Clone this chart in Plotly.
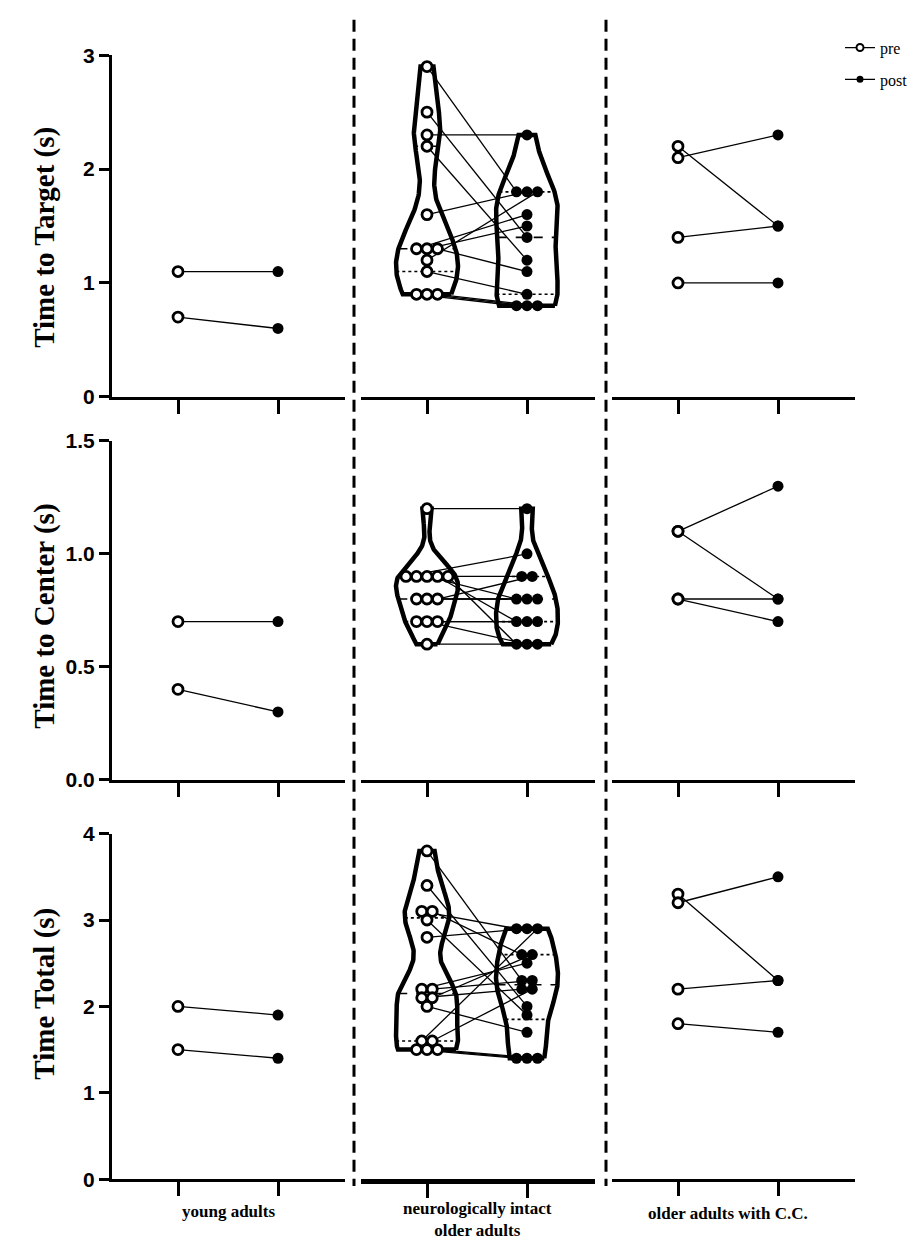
import numpy as np
import plotly.graph_objects as go

# ---------------- data ----------------
groups = ["young adults", "neurologically intact<br>older adults", "older adults with C.C."]
conditions = ["pre", "post"]
measures = ["Time to Target (s)", "Time to Center (s)", "Time Total (s)"]

target_young_pre = [1.1, 0.7]
target_young_post = [1.1, 0.6]
target_intact_pre = [2.9, 2.5, 2.3, 2.2, 1.6, 1.3, 1.3, 1.3, 1.2, 1.1, 0.9, 0.9, 0.9]
target_intact_post = [1.8, 1.4, 2.3, 1.2, 1.8, 1.6, 1.5, 1.1, 1.8, 0.9, 0.8, 0.8, 0.8]
target_cc_pre = [2.2, 2.1, 1.4, 1.0]
target_cc_post = [1.5, 2.3, 1.5, 1.0]

center_young_pre = [0.7, 0.4]
center_young_post = [0.7, 0.3]
center_intact_pre = [1.2, 0.9, 0.9, 0.9, 0.9, 0.9, 0.8, 0.8, 0.8, 0.7, 0.7, 0.7, 0.6]
center_intact_post = [1.2, 1.0, 0.9, 0.8, 0.7, 0.6, 0.8, 0.8, 0.9, 0.7, 0.6, 0.7, 0.6]
center_cc_pre = [1.1, 1.1, 0.8, 0.8]
center_cc_post = [1.3, 0.8, 0.8, 0.7]

total_young_pre = [2.0, 1.5]
total_young_post = [1.9, 1.4]
total_intact_pre = [3.8, 3.4, 3.1, 3.1, 3.0, 2.8, 2.2, 2.2, 2.1, 2.1, 2.0, 1.6, 1.6, 1.5, 1.5, 1.5]
total_intact_post = [2.3, 2.0, 2.9, 2.6, 1.9, 2.9, 2.5, 2.3, 2.2, 2.6, 1.7, 2.9, 2.2, 1.4, 1.4, 1.4]
total_cc_pre = [3.3, 3.2, 2.2, 1.8]
total_cc_post = [2.3, 3.5, 2.3, 1.7]

target_ticks = [0, 1, 2, 3]
target_ticklabels = ["0", "1", "2", "3"]
center_ticks = [0, 0.5, 1.0, 1.5]
center_ticklabels = ["0.0", "0.5", "1.0", "1.5"]
total_ticks = [0, 1, 2, 3, 4]
total_ticklabels = ["0", "1", "2", "3", "4"]

panels = [
    [(target_young_pre, target_young_post), (target_intact_pre, target_intact_post), (target_cc_pre, target_cc_post)],
    [(center_young_pre, center_young_post), (center_intact_pre, center_intact_post), (center_cc_pre, center_cc_post)],
    [(total_young_pre, total_young_post), (total_intact_pre, total_intact_post), (total_cc_pre, total_cc_post)],
]
row_ticks = [(target_ticks, target_ticklabels), (center_ticks, center_ticklabels), (total_ticks, total_ticklabels)]

# ---------------- layout constants (pixels) ----------------
W, H = 922, 1253
row_px = [(44, 392), (437, 782), (837, 1189)]      # (top, bottom) of each row
col_px = [(112, 345), (361, 595), (612, 855)]      # (left, right) of each column
px_per_unit = 100.0
first_tick_offset = 66.0
bandwidths = [0.25, 0.075, 0.26]
violin_half = 0.31
title_px = [230, 616, 1000]
SERIF = "Liberation Serif"
SANS = "Liberation Sans"


def px_x(p):
    return p / W


def px_y(p):
    return 1 - p / H


def spread(vals, step):
    vals = list(vals)
    offs = [0.0] * len(vals)
    seen = {}
    counts = {}
    for v in vals:
        counts[v] = counts.get(v, 0) + 1
    for i, v in enumerate(vals):
        k = seen.get(v, 0)
        seen[v] = k + 1
        offs[i] = (k - (counts[v] - 1) / 2.0) * step
    return offs


def kde_outline(vals, center, bw, half_width, n=160):
    v = np.asarray(vals, float)
    ys = np.linspace(v.min(), v.max(), n)
    d = np.exp(-0.5 * ((ys[:, None] - v[None, :]) / bw) ** 2).sum(1)
    w = half_width * d / d.max()
    xs = np.concatenate([center + w, (center - w)[::-1], [center + w[0]]])
    yy = np.concatenate([ys, ys[::-1], [ys[0]]])
    return xs, yy, ys, w


fig = go.Figure()
layout = dict(
    width=W, height=H, margin=dict(l=0, r=0, t=0, b=0),
    paper_bgcolor="white", plot_bgcolor="white", showlegend=True,
)

for r in range(3):
    for c in range(3):
        idx = r * 3 + c + 1
        xa = "x" if idx == 1 else f"x{idx}"
        ya = "y" if idx == 1 else f"y{idx}"
        pre, post = panels[r][c]
        x_pre = [0.0] * len(pre)
        x_post = [1.0] * len(post)
        if c == 1:
            step = 0.105
            op = spread(pre, step)
            oq = spread(post, step)
            x_pre = [0.0 + o for o in op]
            x_post = [1.0 + o for o in oq]
            # violins + median / quartile lines
            for cx, vals in ((0.0, pre), (1.0, post)):
                xs, yy, ys, w = kde_outline(vals, cx, bandwidths[r], violin_half)
                fig.add_trace(go.Scatter(x=xs, y=yy, mode="lines", xaxis=xa, yaxis=ya,
                                         line=dict(color="black", width=4.5), showlegend=False,
                                         hoverinfo="skip"))
                q1, med, q3 = np.percentile(vals, [25, 50, 75])
                for q, dash in ((q1, "dot"), (q3, "dot"), (med, "dash")):
                    hw = float(np.interp(q, ys, w))
                    fig.add_trace(go.Scatter(x=[cx - hw, cx + hw], y=[q, q], mode="lines",
                                             xaxis=xa, yaxis=ya, showlegend=False,
                                             line=dict(color="black", width=1.6, dash=dash),
                                             hoverinfo="skip"))
        # connecting lines
        lx, ly = [], []
        for a, b, ya_, yb_ in zip(x_pre, x_post, pre, post):
            lx += [a, b, None]
            ly += [ya_, yb_, None]
        fig.add_trace(go.Scatter(x=lx, y=ly, mode="lines", xaxis=xa, yaxis=ya,
                                 line=dict(color="black", width=1.3), showlegend=False,
                                 hoverinfo="skip"))
        fig.add_trace(go.Scatter(x=x_pre, y=pre, mode="markers", xaxis=xa, yaxis=ya,
                                 marker=dict(symbol="circle", size=10, color="white",
                                             line=dict(color="black", width=2.8)),
                                 showlegend=False, name="pre"))
        fig.add_trace(go.Scatter(x=x_post, y=post, mode="markers", xaxis=xa, yaxis=ya,
                                 marker=dict(symbol="circle", size=11, color="black",
                                             line=dict(color="black", width=0)),
                                 showlegend=False, name="post"))

        left, right = col_px[c]
        top, bottom = row_px[r]
        xr = [-first_tick_offset / px_per_unit, (right - left - first_tick_offset) / px_per_unit]
        tv, tt = row_ticks[r]
        xkey = "xaxis" if idx == 1 else f"xaxis{idx}"
        ykey = "yaxis" if idx == 1 else f"yaxis{idx}"
        layout[xkey] = dict(
            domain=[px_x(left), px_x(right)], range=xr, anchor=ya,
            showline=True, linecolor="black", linewidth=5 if (r == 2 and c == 1) else 3,
            ticks="outside", ticklen=14, tickwidth=3, tickcolor="black",
            tickvals=[0, 1], showticklabels=False, showgrid=False, zeroline=False,
            fixedrange=True,
        )
        ydict = dict(
            domain=[px_y(bottom), px_y(top)], range=[tv[0], tv[-1]], anchor=xa,
            showgrid=False, zeroline=False, fixedrange=True,
        )
        if c == 0:
            ydict.update(showline=True, linecolor="black", linewidth=3, ticks="outside",
                         ticklen=10, tickwidth=3, tickcolor="black", tickvals=tv, ticktext=tt,
                         tickfont=dict(family=SANS, size=21, color="black", weight="bold"))
        else:
            ydict.update(showline=False, ticks="", showticklabels=False)
        layout[ykey] = ydict

# legend entries
fig.add_trace(go.Scatter(x=[None], y=[None], mode="lines+markers", name=conditions[0],
                         legendgroup="a",
                         line=dict(color="black", width=1.3),
                         marker=dict(symbol="circle", size=7, color="white",
                                     line=dict(color="black", width=2))))
fig.add_trace(go.Scatter(x=[None], y=[None], mode="lines+markers", name=conditions[1],
                         legendgroup="b",
                         line=dict(color="black", width=1.3),
                         marker=dict(symbol="circle", size=7, color="black")))

annotations = []
for r in range(3):
    annotations.append(dict(text=measures[r], xref="paper", yref="paper",
                            x=px_x(45), y=px_y(title_px[r]), textangle=-90,
                            showarrow=False, xanchor="center", yanchor="middle",
                            font=dict(family=SERIF, size=29, color="black", weight="bold")))
label_px = [1222, 1230, 1224]
for c in range(3):
    idx = 6 + c + 1
    annotations.append(dict(text=groups[c], xref=f"x{idx}", yref="paper",
                            x=0.5, y=px_y(label_px[c]), showarrow=False,
                            xanchor="center", yanchor="middle",
                            font=dict(family=SERIF, size=17, color="black", weight="bold")))
layout["annotations"] = annotations

shapes = []
for xp in (354, 606):
    shapes.append(dict(type="line", xref="paper", yref="paper",
                       x0=px_x(xp), x1=px_x(xp), y0=px_y(8), y1=px_y(1196),
                       line=dict(color="black", width=3, dash="12px,7px")))
layout["shapes"] = shapes

layout["legend"] = dict(x=px_x(840), y=px_y(19), xanchor="left", yanchor="top",
                        font=dict(family=SERIF, size=16, color="black"),
                        bgcolor="rgba(0,0,0,0)", itemwidth=30, tracegroupgap=8)

fig.update_layout(**layout)
fig.write_html("out.html")
